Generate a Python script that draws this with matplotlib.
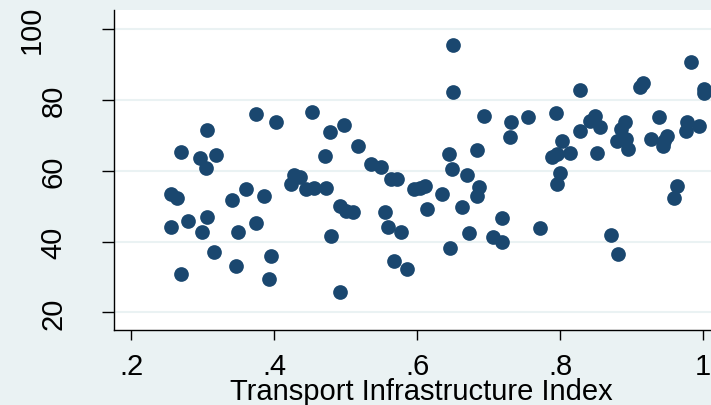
#scatter of outcome score against transport infrastructure index (stata look)

import matplotlib
matplotlib.use('Agg')
import matplotlib.pyplot as plt

#values
transport_index = [0.255, 0.264, 0.255, 0.270, 0.270, 0.280, 0.296, 0.306, 0.318, 0.305,
                   0.306, 0.299, 0.315, 0.341, 0.349, 0.346, 0.360, 0.374, 0.374, 0.386,
                   0.395, 0.393, 0.402, 0.428, 0.436, 0.424, 0.444, 0.455, 0.473, 0.453,
                   0.478, 0.497, 0.517, 0.471, 0.535, 0.549, 0.563, 0.572, 0.492, 0.500,
                   0.510, 0.479, 0.492, 0.555, 0.559, 0.577, 0.567, 0.586, 0.595, 0.604,
                   0.611, 0.635, 0.613, 0.663, 0.650, 0.650, 0.644, 0.649, 0.670, 0.684,
                   0.694, 0.687, 0.684, 0.719, 0.672, 0.646, 0.706, 0.719, 0.731, 0.730,
                   0.755, 0.794, 0.803, 0.789, 0.796, 0.813, 0.800, 0.796, 0.771, 0.828,
                   0.827, 0.841, 0.849, 0.856, 0.852, 0.890, 0.885, 0.880, 0.892, 0.895,
                   0.915, 0.912, 0.871, 0.881, 0.938, 0.927, 0.943, 0.949, 0.945, 0.963,
                   0.959, 0.983, 1.001, 1.001, 0.977, 0.976, 0.994]
score = [53.3, 52.4, 44.2, 65.3, 30.7, 45.8, 63.6, 71.5, 64.3, 60.6,
         46.9, 42.6, 37.0, 51.8, 42.6, 33.0, 54.8, 76.0, 45.2, 52.8,
         36.0, 29.5, 73.6, 58.8, 58.2, 56.2, 54.8, 55.2, 55.0, 76.4,
         71.0, 73.0, 66.9, 64.1, 61.9, 61.1, 57.5, 57.5, 50.1, 48.7,
         48.4, 41.6, 25.8, 48.2, 44.0, 42.6, 34.5, 32.2, 54.7, 55.0,
         55.6, 53.4, 49.2, 49.7, 95.4, 82.1, 64.7, 60.5, 58.8, 65.9,
         75.3, 55.3, 52.8, 46.5, 42.4, 38.1, 41.2, 39.9, 73.7, 69.4,
         75.0, 76.2, 68.3, 63.8, 64.7, 65.0, 59.2, 56.2, 43.7, 82.8,
         71.3, 74.1, 75.5, 72.2, 65.0, 73.8, 71.7, 68.4, 68.9, 66.1,
         84.6, 83.5, 41.8, 36.4, 75.0, 68.9, 67.0, 69.7, 68.4, 55.6,
         52.4, 90.7, 83.0, 81.9, 73.6, 71.3, 72.5]

x_ticks = [0.2, 0.4, 0.6, 0.8, 1.0]
x_tick_labels = ['.2', '.4', '.6', '.8', '1']
y_ticks = [20, 40, 60, 80, 100]

plt.rcParams['font.family'] = 'Liberation Sans'

fig = plt.figure(figsize=(7.11, 4.06), dpi=100, facecolor='#EAF2F3')
ax = fig.add_axes([0.1603, 0.1847, 0.8397, 0.7882])
ax.set_facecolor('white')

ax.scatter(transport_index, score, s=112, color='#1A476F', linewidths=0, zorder=3)

ax.set_xlim(0.1758, 1.0108)
ax.set_ylim(15.04, 105.3)
ax.set_xticks(x_ticks)
ax.set_xticklabels(x_tick_labels)
ax.set_yticks(y_ticks)

#light horizontal grid like stata s2color
ax.grid(axis='y', color='#EAF2F3', linewidth=1.5)
ax.set_axisbelow(True)
ax.spines['top'].set_visible(False)
ax.spines['right'].set_visible(False)
for side in ['left', 'bottom']:
    ax.spines[side].set_linewidth(1.0)
    ax.spines[side].set_color('black')

ax.tick_params(axis='both', labelsize=21, width=1, color='black', direction='out')
ax.tick_params(axis='x', length=7.5, pad=8)
ax.tick_params(axis='y', length=9, pad=24.5, labelrotation=90)
for lab in ax.get_yticklabels():
    lab.set_va('center')
ax.yaxis.get_major_ticks()[-1].set_pad(40)

ax.set_xlabel('Transport Infrastructure Index', fontsize=21, va='baseline')
ax.xaxis.set_label_coords(0.515, -0.2156)

fig.savefig('out.png', dpi=100, facecolor=fig.get_facecolor())
